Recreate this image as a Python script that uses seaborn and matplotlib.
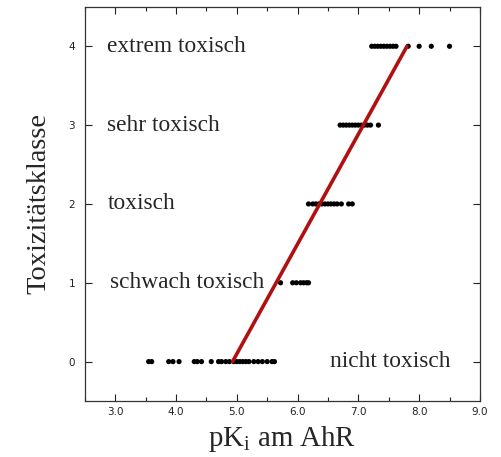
import numpy as np
import pandas as pd
import matplotlib
matplotlib.use("Agg")
import matplotlib.pyplot as plt
from matplotlib.ticker import MultipleLocator
import seaborn as sns

# ── data ─────────────────────────────────────────────────
pk_class0 = [3.55, 3.6, 3.88, 3.95, 4.05, 4.3, 4.35, 4.42, 4.58, 4.7, 4.75,
             4.82, 4.88, 4.95, 5.0, 5.05, 5.1, 5.15, 5.2, 5.28, 5.35, 5.42,
             5.5, 5.58, 5.62]
pk_class1 = [5.72, 5.92, 5.98, 6.05, 6.1, 6.15, 6.18]
pk_class2 = [6.18, 6.25, 6.3, 6.35, 6.4, 6.45, 6.5, 6.55, 6.6, 6.65, 6.72,
             6.84, 6.9]
pk_class3 = [6.7, 6.75, 6.8, 6.85, 6.9, 6.95, 7.0, 7.05, 7.1, 7.15, 7.2, 7.33]
pk_class4 = [7.22, 7.27, 7.32, 7.37, 7.42, 7.47, 7.52, 7.57, 7.62, 7.82,
             8.0, 8.2, 8.5]

fit_x = [4.93, 7.8]
fit_y = [0, 4]

class_labels = ["nicht toxisch", "schwach toxisch", "toxisch",
                "sehr toxisch", "extrem toxisch"]
label_x = [6.53, 2.92, 2.87, 2.87, 2.87]

x_ticks = [3.0, 4.0, 5.0, 6.0, 7.0, 8.0, 9.0]
y_ticks = [0, 1, 2, 3, 4]

groups = [pk_class0, pk_class1, pk_class2, pk_class3, pk_class4]
df = pd.DataFrame({
    "pK": [v for g in groups for v in g],
    "klasse": [i for i, g in enumerate(groups) for _ in g],
})

# ── style ────────────────────────────────────────────────
sns.set_style("ticks")
plt.rcParams["font.family"] = ["DejaVu Sans"]
SERIF = "Liberation Serif"

fig = plt.figure(figsize=(5.02, 4.57), dpi=100)
ax = fig.add_axes([0.169, 0.1225, 0.787, 0.8625])

sns.scatterplot(data=df, x="pK", y="klasse", ax=ax, color="black",
                s=14, edgecolor="none", zorder=3)
sns.lineplot(x=fit_x, y=fit_y, ax=ax, color="#b01010", linewidth=2.6,
             zorder=4)

for k, (lab, lx) in enumerate(zip(class_labels, label_x)):
    ax.text(lx, k, lab, family=SERIF, fontsize=16.8, va="center", ha="left")

ax.set_xlim(2.5, 9.0)
ax.set_ylim(-0.5, 4.5)
ax.set_xticks(x_ticks)
ax.set_xticklabels([f"{t:.1f}" for t in x_ticks])
ax.set_yticks(y_ticks)
ax.xaxis.set_minor_locator(MultipleLocator(0.5))

ax.tick_params(which="both", direction="in", top=True, right=True,
               labelsize=7.5, colors="#222222")
ax.tick_params(axis="x", pad=4)
ax.tick_params(axis="y", pad=7)
ax.tick_params(which="major", length=5, width=0.8)
ax.tick_params(which="minor", length=3, width=0.8)
for sp in ax.spines.values():
    sp.set_linewidth(0.9)
    sp.set_color("#333333")

ax.set_xlabel("pK$_\\mathregular{i}$ am AhR", family=SERIF, fontsize=20.8,
              labelpad=5)
ax.set_ylabel("Toxizitätsklasse", family=SERIF, fontsize=20.5, labelpad=12)

fig.savefig("out.png", dpi=100)
